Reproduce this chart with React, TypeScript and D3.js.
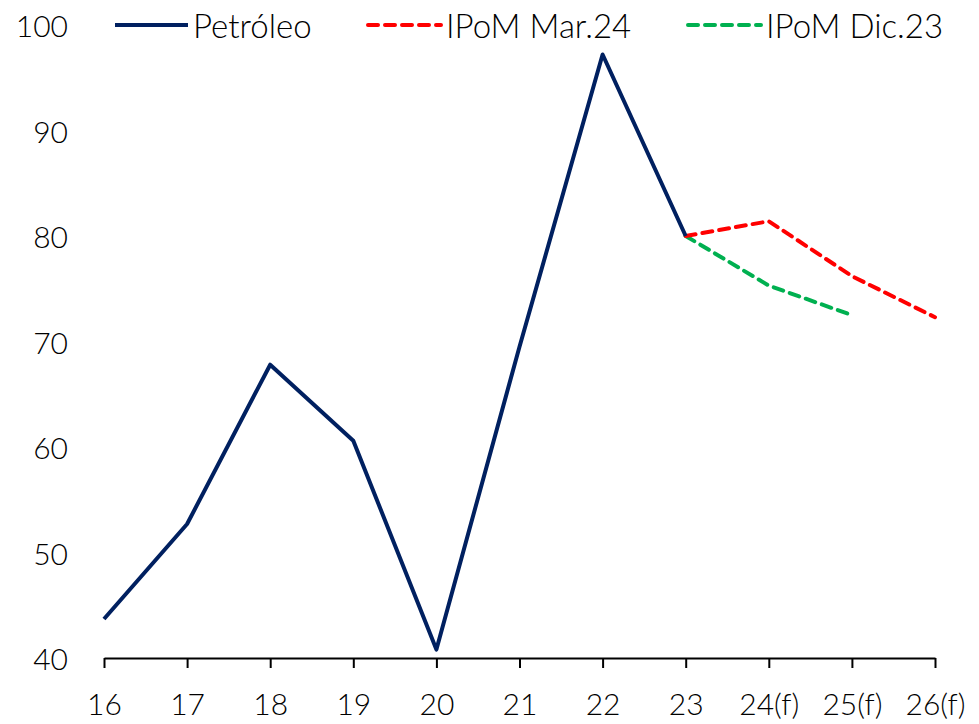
import { useEffect, useRef } from 'react';
import * as d3 from 'd3';

const categories = ['16', '17', '18', '19', '20', '21', '22', '23', '24(f)', '25(f)', '26(f)'];
const petroleo = [43.7, 52.7, 67.8, 60.6, 40.8, 69.5, 97.2, 80.0];
const ipomMar24 = [null, null, null, null, null, null, null, 80.0, 81.4, 76.2, 72.3];
const ipomDic23 = [null, null, null, null, null, null, null, 80.0, 75.3, 72.5, null];
const yTicks = [40, 50, 60, 70, 80, 90, 100];

const FONT = 'Lato, "Open Sans", sans-serif';

export default function App() {
  const ref = useRef<SVGSVGElement>(null);

  useEffect(() => {
    const svg = d3.select(ref.current);
    svg.selectAll('*').remove();

    const x = d3.scalePoint<string>().domain(categories).range([104, 935]);
    const y = d3.scaleLinear().domain([40, 100]).range([658, 25]);

    // y tick labels (no axis line)
    svg.append('g').selectAll('text').data(yTicks).join('text')
      .attr('x', 68).attr('y', d => y(d)).attr('text-anchor', 'end')
      .attr('dominant-baseline', 'central')
      .style('font-family', FONT).style('font-size', '30px').style('font-weight', 300).style('fill', '#000')
      .text(d => d);

    // x axis
    const xa = svg.append('g').attr('transform', 'translate(0,658)')
      .call(d3.axisBottom(x).tickSize(10).tickSizeOuter(0).tickPadding(26));
    xa.select('.domain').attr('stroke', '#000').attr('stroke-width', 2);
    xa.selectAll('.tick line').attr('stroke', '#000').attr('stroke-width', 2);
    xa.selectAll('.tick text').style('font-family', FONT).style('font-size', '30px')
      .style('font-weight', 300).style('fill', '#000');

    const line = d3.line<number | null>()
      .defined(d => d != null)
      .x((_, i) => x(categories[i])!)
      .y(d => y(d as number));

    svg.append('path').datum(ipomDic23 as (number | null)[])
      .attr('d', line).attr('fill', 'none').attr('stroke', '#00b050')
      .attr('stroke-width', 4).attr('stroke-dasharray', '10,7').attr('stroke-linecap', 'round');
    svg.append('path').datum(ipomMar24 as (number | null)[])
      .attr('d', line).attr('fill', 'none').attr('stroke', '#ff0000')
      .attr('stroke-width', 4).attr('stroke-dasharray', '10,7').attr('stroke-linecap', 'round');
    svg.append('path').datum(petroleo as (number | null)[])
      .attr('d', line).attr('fill', 'none').attr('stroke', '#002060')
      .attr('stroke-width', 4).attr('stroke-linejoin', 'round');

    // legend
    const legend = [
      { label: 'Petróleo', color: '#002060', dash: null, x: 115 },
      { label: 'IPoM Mar.24', color: '#ff0000', dash: '10,7', x: 368 },
      { label: 'IPoM Dic.23', color: '#00b050', dash: '10,7', x: 688 },
    ];
    const lg = svg.append('g');
    legend.forEach(l => {
      lg.append('line').attr('x1', l.x).attr('x2', l.x + 73).attr('y1', 25).attr('y2', 25)
        .attr('stroke', l.color).attr('stroke-width', 4)
        .attr('stroke-dasharray', l.dash).attr('stroke-linecap', l.dash ? 'round' : 'butt');
      lg.append('text').attr('x', l.x + 78).attr('y', 25).attr('dominant-baseline', 'central')
        .style('font-family', FONT).style('font-size', '33px').style('font-weight', 300).style('fill', '#000')
        .text(l.label);
    });
  }, []);

  return <svg ref={ref} width={979} height={724} style={{ position: 'absolute', left: 0, top: 0 }} />;
}
